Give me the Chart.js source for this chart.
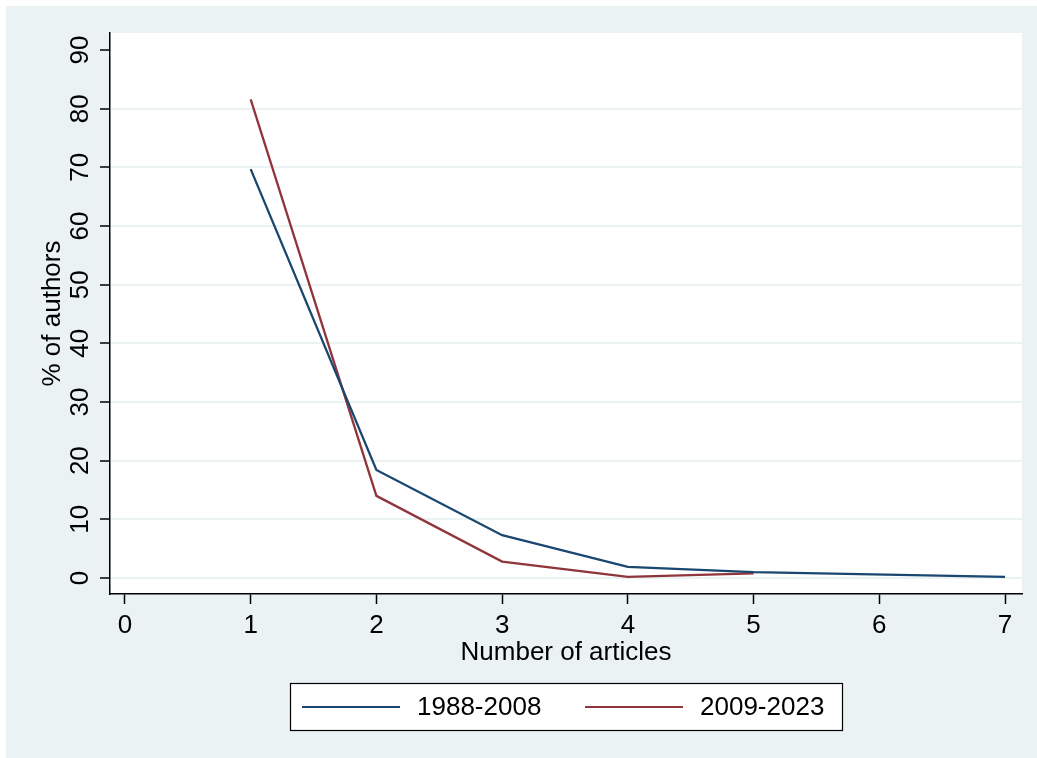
<!DOCTYPE html>
<html>
<head>
<meta charset="utf-8">
<script src="https://cdn.jsdelivr.net/npm/chart.js@4.4.0/dist/chart.umd.min.js"></script>
<style>
  html, body { margin: 0; padding: 0; background: #ffffff; }
  #wrap { width: 1037px; height: 758px; }
</style>
</head>
<body>
<div id="wrap"><canvas id="chart-articles" width="1037" height="758"></canvas></div>
<script>
// Distribution of authors by number of articles published
const periodos = ['1988-2008', '2009-2023'];
const articulosA = [1, 2, 3, 4, 5, 7];
const autoresA = [69.7, 18.4, 7.3, 1.9, 1.0, 0.2];
const articulosB = [1, 2, 3, 4, 5];
const autoresB = [81.6, 14.0, 2.8, 0.2, 0.8];
const ticksX = [0, 1, 2, 3, 4, 5, 6, 7];
const ticksY = [0, 10, 20, 30, 40, 50, 60, 70, 80, 90];

const colorAzul = '#1a476f';
const colorRojo = '#90353b';
const fondo = '#eaf2f3';
const fuente = '"Liberation Sans", Arial, sans-serif';

function puntos(xs, ys) {
    return xs.map((x, i) => ({ x: x, y: ys[i] }));
}

// background, white plot region and boxed legend
const marcoStata = {
    id: 'marcoStata',
    beforeDraw(chart) {
        const { ctx, chartArea } = chart;
        ctx.save();
        ctx.fillStyle = fondo;
        ctx.fillRect(6, 6, chart.width - 6, chart.height - 6);
        ctx.fillStyle = '#ffffff';
        ctx.fillRect(chartArea.left, chartArea.top, chartArea.right - chartArea.left, chartArea.bottom - chartArea.top);
        ctx.restore();
    },
    afterDraw(chart) {
        const { ctx } = chart;
        ctx.save();
        ctx.fillStyle = '#ffffff';
        ctx.fillRect(290, 683, 552, 47);
        ctx.strokeStyle = '#000000';
        ctx.lineWidth = 1.2;
        ctx.strokeRect(290.5, 683.5, 552, 47);
        const items = [
            { x: 302, color: colorAzul, label: periodos[0] },
            { x: 585, color: colorRojo, label: periodos[1] },
        ];
        ctx.font = '26px ' + fuente;
        ctx.textBaseline = 'middle';
        ctx.fillStyle = '#000000';
        items.forEach(it => {
            ctx.strokeStyle = it.color;
            ctx.lineWidth = 2.2;
            ctx.beginPath();
            ctx.moveTo(it.x, 707);
            ctx.lineTo(it.x + 98, 707);
            ctx.stroke();
            ctx.fillText(it.label, it.x + 115, 708);
        });
        ctx.restore();
    },
};

const ctx = document.getElementById('chart-articles');
new Chart(ctx, {
    type: 'line',
    data: {
        datasets: [
            {
                label: periodos[0],
                data: puntos(articulosA, autoresA),
                borderColor: colorAzul,
                borderWidth: 2.3,
                pointRadius: 0,
                tension: 0,
            },
            {
                label: periodos[1],
                data: puntos(articulosB, autoresB),
                borderColor: colorRojo,
                borderWidth: 2.3,
                pointRadius: 0,
                tension: 0,
            },
        ],
    },
    options: {
        responsive: false,
        animation: false,
        layout: { padding: { left: 37, top: 33, right: 15, bottom: 90 } },
        plugins: {
            legend: { display: false },
            tooltip: { enabled: false },
        },
        scales: {
            x: {
                type: 'linear',
                min: -0.119,
                max: 7.135,
                afterBuildTicks: s => { s.ticks = ticksX.map(v => ({ value: v })); },
                afterFit: s => { s.height = 74; },
                ticks: { color: '#000000', font: { size: 26, family: fuente }, padding: 6 },
                grid: { drawOnChartArea: false, tickLength: 10, tickColor: '#000000', tickWidth: 1.5 },
                border: { color: '#000000', width: 1.5 },
                title: { display: true, text: 'Number of articles', color: '#000000', font: { size: 26, family: fuente }, padding: 0 },
            },
            y: {
                type: 'linear',
                min: -2.73,
                max: 92.9,
                afterBuildTicks: s => { s.ticks = ticksY.map(v => ({ value: v })); },
                afterFit: s => { s.width = 73; },
                ticks: {
                    color: '#000000',
                    font: { size: 26, family: fuente },
                    minRotation: 90,
                    maxRotation: 90,
                    crossAlign: 'center',
                    padding: 5,
                },
                grid: {
                    color: c => (c.tick && c.tick.value === 90 ? 'rgba(0,0,0,0)' : fondo),
                    lineWidth: 2,
                    tickLength: 10,
                    tickColor: '#000000',
                    tickWidth: 1.5,
                },
                border: { color: '#000000', width: 1.5 },
                title: { display: true, text: '% of authors', color: '#000000', font: { size: 26, family: fuente }, padding: 0 },
            },
        },
    },
    plugins: [marcoStata],
});
</script>
</body>
</html>
